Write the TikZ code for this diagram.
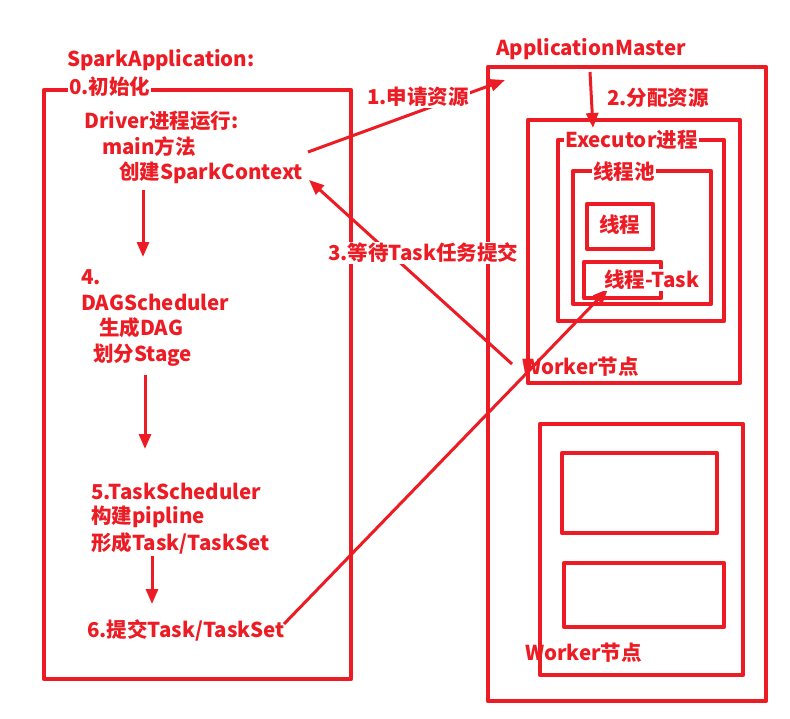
\documentclass[tikz,border=0pt]{standalone}
\usepackage{fontspec}
\setmainfont{Noto Sans CJK SC}
\usetikzlibrary{arrows.meta}
\definecolor{do}{RGB}{237,28,36}
\begin{document}
\begin{tikzpicture}[x=1pt,y=-1pt]
	\tikzset{
		every node/.style={font=\fontsize{20.5}{24}\selectfont\bfseries,text=do,inner sep=1pt,anchor=west},
		% khung
		khung/.style={draw=do,line width=4.5pt,line join=round},
		% chu co nen trang
		nen/.style={fill=white},
		% mui ten
		muiten/.style={draw=do,line width=3pt,-{Triangle[length=15pt,width=12pt]}},
	}
	\useasboundingbox (0,0) rectangle (790,718);
	%
	\draw[khung] (44,90) rectangle (351,679);
	\draw[khung] (488,67) rectangle (766,701);
	\draw[khung] (528,120) rectangle (740,383);
	\draw[khung] (558,140) rectangle (724,321);
	\draw[khung] (573,171) rectangle (711,304);
	\draw[khung] (587,204) rectangle (653,249);
	\draw[khung] (584,262) rectangle (661,298);
	\draw[khung] (540,424) rectangle (743,675);
	\draw[khung] (562,453) rectangle (717,533);
	\draw[khung] (564,563) rectangle (724,627);
	%
	\coordinate (c1a) at (308,152);
	\coordinate (c1b) at (505,80);
	\coordinate (c2a) at (590,72);
	\coordinate (c2b) at (593,128);
	\coordinate (c3a) at (512,364);
	\coordinate (c3b) at (309,180);
	\coordinate (c4a) at (284,624);
	\coordinate (c4b) at (608,289);
	\coordinate (d1a) at (143,190);
	\coordinate (d1b) at (143,257);
	\coordinate (d2a) at (145,375);
	\coordinate (d2b) at (145,449);
	\coordinate (d3a) at (152,556);
	\coordinate (d3b) at (152,604);
	%
	\draw[muiten] (c1a)--(c1b);
	\draw[muiten] (c2a)--(c2b);
	\draw[muiten] (c3a)--(c3b);
	\draw[muiten] (c4a)--(c4b);
	\draw[muiten] (d1a)--(d1b);
	\draw[muiten] (d2a)--(d2b);
	\draw[muiten] (d3a)--(d3b);
	%
	\node (sa) at (66,60) {SparkApplication:};
	\node[nen] (init) at (68,87) {0.初始化};
	\node (drv) at (83,121) {Driver进程运行:};
	\node (mainf) at (101,147) {main方法};
	\node (ctx) at (118,173) {创建SparkContext};
	\node (s4) at (80,277) {4.};
	\node (dag) at (80,302) {DAGScheduler};
	\node (gdag) at (98,328) {生成DAG};
	\node (stg) at (92,355) {划分Stage};
	\node (ts) at (90,491) {5.TaskScheduler};
	\node (pip) at (90,517) {构建pipline};
	\node (tset) at (90,543) {形成Task/TaskSet};
	\node (sub) at (86,630) {6.提交Task/TaskSet};
	%
	\node (am) at (495,49) {ApplicationMaster};
	\node[nen] (req) at (366,97) {1.申请资源};
	\node (alloc) at (606,98) {2.分配资源};
	\node[nen] (exe) at (564,140) {Executor进程};
	\node[nen] (pool) at (592,172) {线程池};
	\node (th) at (598,225) {线程};
	\node[nen] (tht) at (603,280) {线程-Task};
	\node[nen] (wait) at (327,253) {3.等待Task任务提交};
	\node (wk1) at (521,367) {Worker节点};
	\node (wk2) at (524,653) {Worker节点};
\end{tikzpicture}
\end{document}
